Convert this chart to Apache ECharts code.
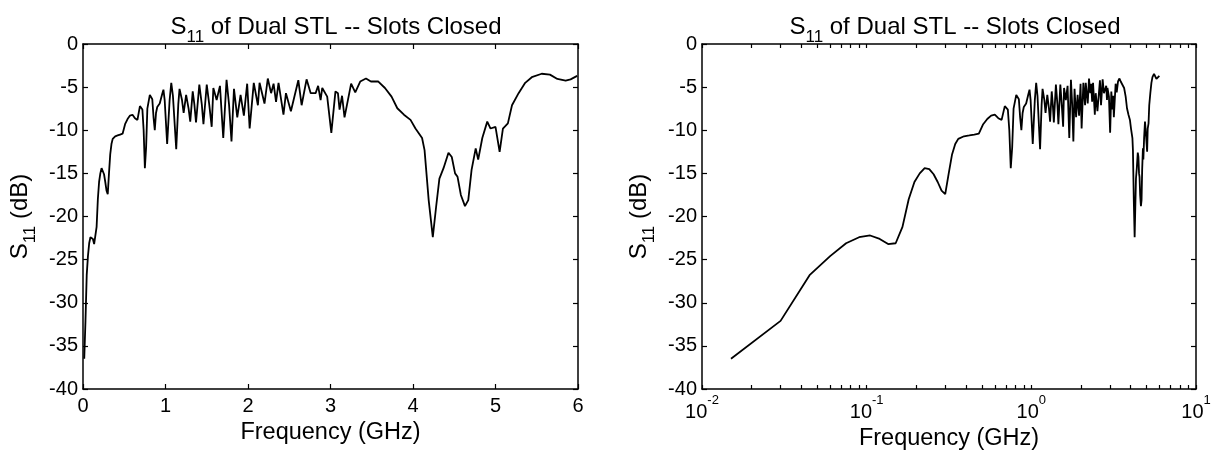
<!DOCTYPE html>
<html>
<head>
<meta charset="utf-8">
<script src="https://cdn.jsdelivr.net/npm/echarts@6/dist/echarts.min.js"></script>
<style>
  html, body { margin: 0; padding: 0; background: #fff; }
  #s11 { width: 1213px; height: 452px; }
</style>
</head>
<body>
<div id="s11"></div>
<script>
// frequency (GHz) and S11 (dB)
var freq = [0.015, 0.03, 0.045, 0.06, 0.075, 0.09, 0.105, 0.12, 0.135, 0.15,
  0.165, 0.18, 0.195, 0.21, 0.225, 0.24, 0.255, 0.27, 0.285, 0.30,
  0.315, 0.33, 0.345, 0.36, 0.39, 0.42, 0.45, 0.48, 0.51, 0.54,
  0.57, 0.60, 0.63, 0.66, 0.69, 0.72, 0.735, 0.75, 0.765, 0.78,
  0.81, 0.84, 0.855, 0.87, 0.885, 0.90, 0.93, 0.96, 0.975, 0.99,
  1.02, 1.05, 1.07, 1.09, 1.13, 1.155, 1.17, 1.20, 1.22, 1.25,
  1.28, 1.30, 1.33, 1.35, 1.37, 1.41, 1.44, 1.46, 1.50, 1.53,
  1.56, 1.58, 1.62, 1.66, 1.70, 1.74, 1.77, 1.80, 1.83, 1.87,
  1.91, 1.95, 1.99, 2.02, 2.07, 2.12, 2.14, 2.20, 2.24, 2.28,
  2.31, 2.34, 2.37, 2.43, 2.46, 2.52, 2.61, 2.65, 2.71, 2.76,
  2.82, 2.85, 2.88, 2.90, 2.96, 3.01, 3.06, 3.09, 3.11, 3.14,
  3.17, 3.25, 3.30, 3.36, 3.43, 3.49, 3.58, 3.66, 3.74, 3.81,
  3.89, 3.97, 4.03, 4.11, 4.14, 4.19, 4.24, 4.28, 4.32, 4.37,
  4.43, 4.47, 4.51, 4.54, 4.58, 4.63, 4.67, 4.71, 4.76, 4.79,
  4.84, 4.90, 4.94, 5.00, 5.05, 5.09, 5.15, 5.20, 5.28, 5.36,
  5.44, 5.56, 5.66, 5.75, 5.85, 5.91, 5.99];
var s11 = [-36.5, -32.1, -26.8, -24.6, -23.1, -22.4, -22.2, -22.6, -23.2, -23.1,
  -21.2, -18.0, -16.0, -15.0, -14.4, -14.5, -15.1, -16.0, -17.0, -17.4,
  -15.0, -12.8, -11.6, -11.0, -10.7, -10.6, -10.5, -10.4, -9.3, -8.7,
  -8.3, -8.2, -8.6, -8.8, -7.2, -7.6, -10.0, -14.4, -12.0, -7.5,
  -5.9, -6.4, -8.5, -10.0, -8.0, -7.3, -6.9, -5.8, -5.3, -6.5,
  -11.6, -6.5, -4.5, -6.0, -12.2, -7.0, -5.2, -6.5, -8.0, -5.9,
  -7.5, -9.0, -5.5, -7.0, -9.1, -4.7, -7.0, -9.3, -4.7, -7.0,
  -9.6, -5.1, -6.5, -4.85, -10.9, -4.15, -7.0, -11.3, -5.2, -8.5,
  -5.9, -8.3, -4.6, -9.8, -4.5, -7.1, -4.5, -6.9, -4.0, -5.7,
  -4.6, -6.7, -4.5, -8.2, -5.7, -7.8, -4.2, -7.1, -4.1, -5.7,
  -5.7, -4.85, -6.5, -5.1, -6.1, -10.3, -5.5, -5.7, -7.6, -6.0,
  -8.5, -4.6, -5.6, -4.35, -4.0, -4.35, -4.35, -5.1, -6.1, -7.45,
  -8.2, -8.8, -9.8, -10.9, -12.3, -18.1, -22.4, -18.9, -15.6, -14.4,
  -12.6, -13.1, -15.0, -15.4, -17.5, -18.8, -18.1, -14.6, -12.1, -13.4,
  -10.9, -9.0, -9.8, -9.6, -12.5, -9.8, -9.2, -7.1, -5.7, -4.5,
  -3.85, -3.45, -3.55, -4.05, -4.25, -4.1, -3.7];

var decades = [0.01, 0.1, 1, 10];
// decade ticks plus 2..9 in each decade for the log axis
var logTicks = [0.01, 0.1, 1, 10];
[0.01, 0.1, 1].forEach(function (d) {
  for (var k = 2; k <= 9; k++) logTicks.push(+(d * k).toPrecision(3));
});

var pts = freq.map(function (f, i) { return [f, s11[i]]; });

var font = 'Liberation Sans, Arial, Helvetica, sans-serif';
var ink = '#000';
var titleRich = {
  n: { fontSize: 24, fontFamily: font, fontWeight: 'normal', color: ink, lineHeight: 31, verticalAlign: 'top' },
  s: { fontSize: 17, fontFamily: font, fontWeight: 'normal', color: ink, lineHeight: 31, verticalAlign: 'bottom' }
};
var titleText = '{n|S}{s|11}{n| of Dual STL -- Slots Closed}';

function box() {
  return { show: true, onZero: false, lineStyle: { color: ink, width: 1.5 } };
}
function ticks(len, vals) {
  var t = { show: true, inside: true, length: len, lineStyle: { color: ink, width: 1.2 } };
  if (vals) t.customValues = vals;
  return t;
}
var lbl = { color: ink, fontSize: 20, fontFamily: font };

var yLeft = function (gi, gap) {
  return {
    type: 'value', gridIndex: gi, min: -40, max: 0, interval: 5, position: 'left',
    axisLine: box(), axisTick: ticks(5), splitLine: { show: false },
    axisLabel: Object.assign({ margin: 5 }, lbl),
    name: '{n|S}{s|11}{n| (dB)}', nameLocation: 'middle', nameGap: gap, nameRotate: 90,
    nameTextStyle: { rich: {
      n: { fontSize: 24, fontFamily: font, color: ink, lineHeight: 31, verticalAlign: 'top' },
      s: { fontSize: 17, fontFamily: font, color: ink, lineHeight: 31, verticalAlign: 'bottom' }
    } }
  };
};
var yRight = function (gi) {
  return {
    type: 'value', gridIndex: gi, min: -40, max: 0, interval: 5, position: 'right',
    axisLine: box(), axisTick: ticks(5), axisLabel: { show: false }, splitLine: { show: false }
  };
};
var xName = {
  name: 'Frequency (GHz)', nameLocation: 'middle', nameGap: 27,
  nameTextStyle: { fontSize: 23.5, fontFamily: font, color: ink }
};

var option = {
  animation: false,
  backgroundColor: '#fff',
  title: [
    { text: titleText, left: 331, top: 10, textAlign: 'center', textStyle: { rich: titleRich } },
    { text: titleText, left: 950, top: 10, textAlign: 'center', textStyle: { rich: titleRich } }
  ],
  grid: [
    { left: 83, top: 44, width: 495, height: 345, outerBoundsMode: 'none', containLabel: false },
    { left: 702, top: 44, width: 494, height: 345, outerBoundsMode: 'none', containLabel: false }
  ],
  xAxis: [
    Object.assign({
      type: 'value', gridIndex: 0, min: 0, max: 6, interval: 1, position: 'bottom',
      axisLine: box(), axisTick: ticks(5), splitLine: { show: false },
      axisLabel: Object.assign({ margin: 7 }, lbl)
    }, xName),
    { type: 'value', gridIndex: 0, min: 0, max: 6, interval: 1, position: 'top',
      axisLine: box(), axisTick: ticks(5), axisLabel: { show: false }, splitLine: { show: false } },
    Object.assign({
      type: 'log', logBase: 10, gridIndex: 1, min: 0.01, max: 10, position: 'bottom',
      axisLine: box(), axisTick: ticks(4, logTicks), splitLine: { show: false },
      axisLabel: {
        margin: 5, customValues: decades,
        formatter: function (v) {
          var e = Math.round(Math.log(v) / Math.LN10);
          return '{b|10}{e|' + e + '}';
        },
        rich: {
          b: { fontSize: 20, fontFamily: font, color: ink, lineHeight: 28, verticalAlign: 'bottom' },
          e: { fontSize: 13, fontFamily: font, color: ink, lineHeight: 28, verticalAlign: 'top' }
        }
      }
    }, xName, { nameGap: 34 }),
    { type: 'log', logBase: 10, gridIndex: 1, min: 0.01, max: 10, position: 'top',
      axisLine: box(), axisTick: ticks(4, logTicks), axisLabel: { show: false }, splitLine: { show: false } }
  ],
  yAxis: [yLeft(0, 44), yRight(0), yLeft(1, 44), yRight(1)],
  series: [
    { type: 'line', xAxisIndex: 0, yAxisIndex: 0, data: pts, showSymbol: false,
      lineStyle: { color: ink, width: 1.8 } },
    { type: 'line', xAxisIndex: 2, yAxisIndex: 2, data: pts, showSymbol: false,
      lineStyle: { color: ink, width: 1.8 } }
  ]
};

var chart = echarts.init(document.getElementById('s11'));
chart.setOption(option);
</script>
</body>
</html>
